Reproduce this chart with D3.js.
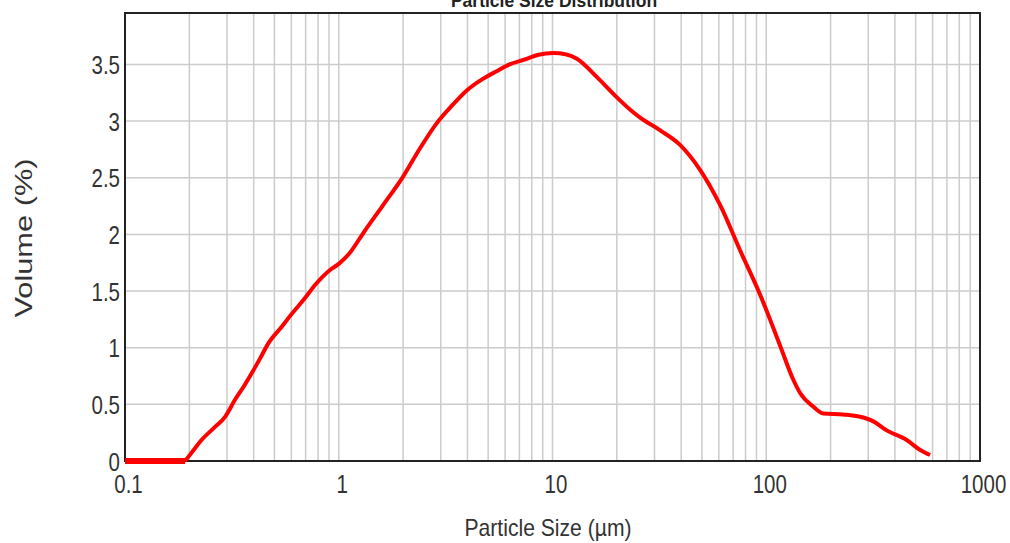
<!DOCTYPE html>
<html><head><meta charset="utf-8">
<script src="https://cdn.jsdelivr.net/npm/d3@7"></script>
<style>body{margin:0;background:#fff}svg{display:block}</style>
</head><body>
<svg id="c" width="1010" height="543"></svg>
<script>
const chartTitle = "Particle Size Distribution";
const xTitle = "Particle Size (µm)";
const yTitle = "Volume (%)";
const sizes = [0.1, 0.12, 0.15, 0.191, 0.21, 0.228, 0.26, 0.294, 0.327, 0.36, 0.392, 0.43, 0.469, 0.541, 0.61, 0.683, 0.78, 0.91, 1.0, 1.13, 1.30, 1.6, 2.0, 2.4, 2.87, 3.4, 3.97, 4.7, 5.48, 6.3, 7.31, 8.6, 10.1, 11.5, 13.0, 16.1, 19.5, 23.1, 25.7, 31.8, 39.5, 49, 60.8, 75.4, 93.5, 116, 134, 144, 166, 185, 229, 275, 317, 366, 454, 525, 584];
const volumes = [0, 0, 0, 0, 0.1, 0.185, 0.29, 0.39, 0.54, 0.66, 0.776, 0.91, 1.04, 1.185, 1.31, 1.42, 1.56, 1.686, 1.74, 1.84, 2.01, 2.25, 2.51, 2.76, 2.98, 3.14, 3.27, 3.37, 3.44, 3.50, 3.54, 3.585, 3.60, 3.59, 3.55, 3.39, 3.23, 3.10, 3.03, 2.92, 2.79, 2.57, 2.26, 1.86, 1.47, 1.02, 0.715, 0.60, 0.48, 0.42, 0.41, 0.39, 0.35, 0.27, 0.185, 0.097, 0.053];
const xTickValues = [0.1, 1, 10, 100, 1000];
const xTickLabels = ["0.1", "1", "10", "100", "1000"];
const yTickValues = [0, 0.5, 1, 1.5, 2, 2.5, 3, 3.5];
const yTickLabels = ["0", "0.5", "1", "1.5", "2", "2.5", "3", "3.5"];

const W = 1010, H = 543;
const m = {left: 125, top: 13, right: 30, bottom: 82};
const iw = W - m.left - m.right, ih = H - m.top - m.bottom;
const svg = d3.select("#c");
const font = "'Liberation Sans',Arial,sans-serif";
const sx = 0.82;

const x = d3.scaleLog().domain([0.1, 1000]).range([m.left, m.left + iw]);
const y = d3.scaleLinear().domain([0, 3.954]).range([m.top + ih, m.top]);

// title (clipped at top)
svg.append("text").attr("x", 554).attr("y", 7)
  .attr("text-anchor", "middle").attr("font-family", font)
  .attr("font-weight", "bold").attr("font-size", 17.5).attr("fill", "#222").text(chartTitle);

// grid
const minor = [];
for (let d = 0.1; d < 1000; d *= 10) for (let k = 1; k <= 9; k++) minor.push(+(d * k).toPrecision(3));
const g = svg.append("g");
g.selectAll("line.v").data(minor.filter(v => v > 0.1)).join("line")
  .attr("x1", d => x(d)).attr("x2", d => x(d)).attr("y1", m.top).attr("y2", m.top + ih)
  .attr("stroke", "#cccccc").attr("stroke-width", 1.5);
g.selectAll("line.h").data(yTickValues.filter(v => v > 0)).join("line")
  .attr("x1", m.left).attr("x2", m.left + iw).attr("y1", d => y(d)).attr("y2", d => y(d))
  .attr("stroke", "#cccccc").attr("stroke-width", 1.5);

// axes via d3 (no tick marks)
const xAxis = d3.axisBottom(x).tickValues(xTickValues).tickFormat((d, i) => xTickLabels[i]).tickSize(0).tickPadding(0);
const xa = svg.append("g").attr("transform", `translate(0,${m.top + ih})`).call(xAxis);
xa.select(".domain").remove();
xa.selectAll("text").attr("font-family", font).attr("font-size", 25).attr("fill", "#333")
  .attr("x", 3 / sx).attr("y", 32).attr("dy", null).attr("transform", `scale(${sx},1)`);

const yAxis = d3.axisLeft(y).tickValues(yTickValues).tickFormat((d, i) => yTickLabels[i]).tickSize(0).tickPadding(0);
const ya = svg.append("g").attr("transform", `translate(${m.left},0)`).call(yAxis);
ya.select(".domain").remove();
ya.selectAll("text").attr("font-family", font).attr("font-size", 25).attr("fill", "#333")
  .attr("x", -5 / sx).attr("dy", "0.36em").attr("transform", `scale(${sx},1)`);

// frame
svg.append("rect").attr("x", m.left).attr("y", m.top).attr("width", iw).attr("height", ih)
  .attr("fill", "none").attr("stroke", "#222").attr("stroke-width", 2);

// data line
const pts = sizes.map((s, i) => [s, volumes[i]]);
const line = d3.line().x(d => x(d[0])).y(d => y(d[1])).curve(d3.curveMonotoneX);
svg.append("path").datum(pts.filter(d => d[1] === 0)).attr("d", d3.line().x(d => x(d[0])).y(d => y(d[1])))
  .attr("fill", "none").attr("stroke", "#ff0000").attr("stroke-width", 6);
const lastZero = pts.filter(d => d[1] === 0).length - 1;
svg.append("path").datum(pts.slice(lastZero)).attr("d", line)
  .attr("fill", "none").attr("stroke", "#ff0000").attr("stroke-width", 4).attr("stroke-linejoin", "round");

// axis titles
svg.append("text").attr("x", 548).attr("y", 536).attr("text-anchor", "middle")
  .attr("font-family", font).attr("font-size", 24).attr("fill", "#333")
  .attr("textLength", 167).attr("lengthAdjust", "spacingAndGlyphs").text(xTitle);
svg.append("text").attr("transform", "translate(32,238) rotate(-90)").attr("text-anchor", "middle")
  .attr("font-family", font).attr("font-size", 24).attr("fill", "#333")
  .attr("textLength", 159).attr("lengthAdjust", "spacingAndGlyphs").text(yTitle);
</script>
</body></html>
